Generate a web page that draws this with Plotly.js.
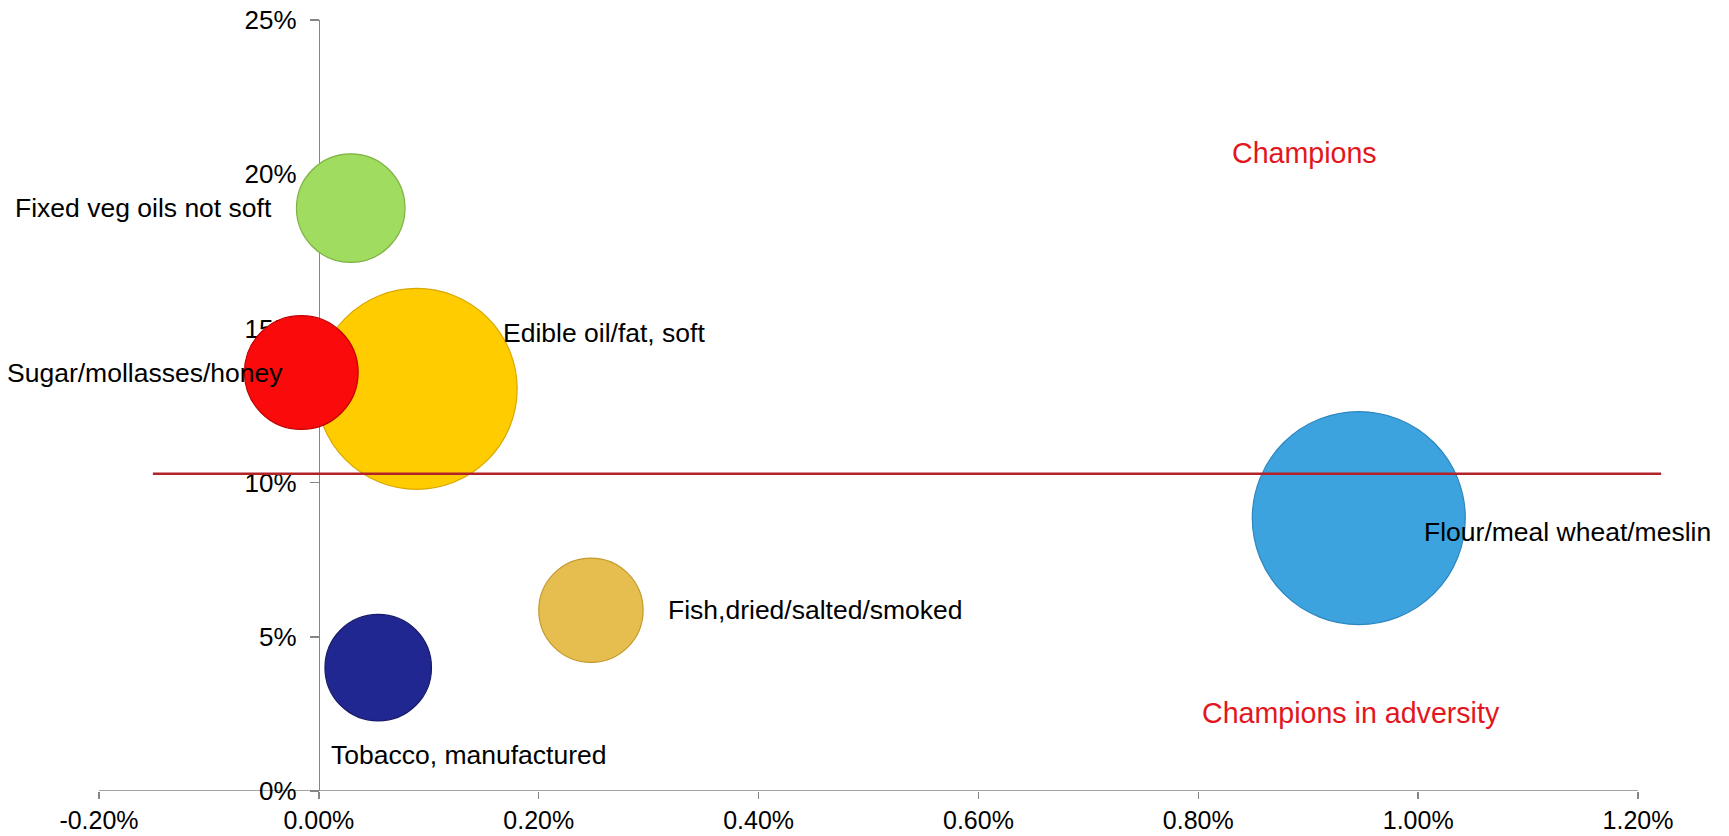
<!DOCTYPE html>
<html><head><meta charset="utf-8">
<script src="https://cdn.plot.ly/plotly-3.0.1.min.js"></script>
<style>html,body{margin:0;padding:0;background:#fff;}#chart{width:1729px;height:836px;}</style>
</head><body><div id="chart"></div>
<script>
// Data (draw order: later items on top)
const products = ["Fixed veg oils not soft","Edible oil/fat, soft","Sugar/mollasses/honey","Flour/meal wheat/meslin","Fish,dried/salted/smoked","Tobacco, manufactured"];
const xValues = [0.00029, 0.00089, -0.00016, 0.00946, 0.002475, 0.00054];
const yValues = [0.189, 0.1304, 0.1357, 0.0885, 0.0586, 0.040];
const bubbleSizes = [26, 89, 28.5, 100, 24, 25];
const quadrantNames = ["Champions", "Champions in adversity"];
const quadrantX = [0.00897, 0.00939];
const quadrantY = [0.2068, 0.0254];
const thresholdY = 0.1029;
const thresholdX = [-0.00151, 0.01221];
const xTickVals = [-0.002, 0, 0.002, 0.004, 0.006, 0.008, 0.010, 0.012];
const xTickText = ["-0.20%","0.00%","0.20%","0.40%","0.60%","0.80%","1.00%","1.20%"];
const yTickVals = [0, 0.05, 0.10, 0.15, 0.20, 0.25];
const yTickText = ["0%","5%","10%","15%","20%","25%"];

// Styles
const fillColors = ["#9FDC5F", "#FFCC00", "#FA0A0A", "#3CA3DF", "#E6BD4F", "#212790"];
const lineColors = ["#7DB243", "#D9A800", "#C00000", "#2D86BE", "#C49A2C", "#151A6A"];
const labelAnchor = ["right", "left", "right", "left", "left", "center"];
const labelDx = [-77, 84, -16, 63, 75, 90];
const labelDy = [0, 56, 0, -14, 0, -87];
const xRange = [-0.002, 0.0123];
const yRange = [0, 0.25];
const maxDiameter = 213;
const FONT = "Liberation Sans, Arial, sans-serif";
const axisGray = "#868686";

const trace = {
  type: "scatter", mode: "markers",
  x: xValues, y: yValues, text: products, hoverinfo: "text",
  marker: {
    size: bubbleSizes, sizemode: "area",
    sizeref: 2 * Math.max(...bubbleSizes) / (maxDiameter * maxDiameter),
    color: fillColors, opacity: 1,
    line: {color: lineColors, width: 1.2}
  },
  cliponaxis: false, showlegend: false
};

const annotations = products.map((p, i) => ({
  x: xValues[i], y: yValues[i], xref: "x", yref: "y", text: p, showarrow: false,
  xanchor: labelAnchor[i], yanchor: "middle", xshift: labelDx[i], yshift: labelDy[i],
  font: {family: FONT, size: 26.5, color: "#000"}
})).concat(quadrantNames.map((q, i) => ({
  x: quadrantX[i], y: quadrantY[i], xref: "x", yref: "y", text: q, showarrow: false,
  xanchor: "center", yanchor: "middle",
  font: {family: FONT, size: 28.6, color: "#E3161D"}
})));

const layout = {
  width: 1729, height: 836,
  margin: {l: 99, r: 58, t: 20, b: 45},
  paper_bgcolor: "#fff", plot_bgcolor: "#fff",
  font: {family: FONT, size: 26, color: "#000"},
  xaxis: {
    range: xRange, showgrid: false, zeroline: false, showline: false,
    tickvals: xTickVals, ticktext: xTickText, ticks: "outside", ticklen: 7,
    tickcolor: axisGray, tickwidth: 1.5, tickfont: {family: FONT, size: 25, color: "#000"},
    layer: "below traces"
  },
  yaxis: {
    range: yRange, anchor: "free",
    position: (0 - xRange[0]) / (xRange[1] - xRange[0]),
    showgrid: false, zeroline: false, showline: true, linecolor: axisGray, linewidth: 1.5,
    tickvals: yTickVals, ticktext: yTickText, ticks: "outside", ticklen: 9,
    tickcolor: axisGray, tickwidth: 1.5, ticklabelstandoff: 8,
    tickfont: {family: FONT, size: 26, color: "#000"},
    layer: "below traces"
  },
  shapes: [
    {type: "line", xref: "x", yref: "y", x0: xTickVals[0], x1: xTickVals[xTickVals.length - 1],
     y0: yRange[0], y1: yRange[0], line: {color: axisGray, width: 1.5}, layer: "below"},
    {type: "line", xref: "x", yref: "y", x0: thresholdX[0], x1: thresholdX[1],
     y0: thresholdY, y1: thresholdY, line: {color: "#B22229", width: 2.5}, layer: "above"}
  ],
  annotations: annotations
};

Plotly.newPlot("chart", [trace], layout, {displayModeBar: false, staticPlot: true});
</script>
</body></html>
